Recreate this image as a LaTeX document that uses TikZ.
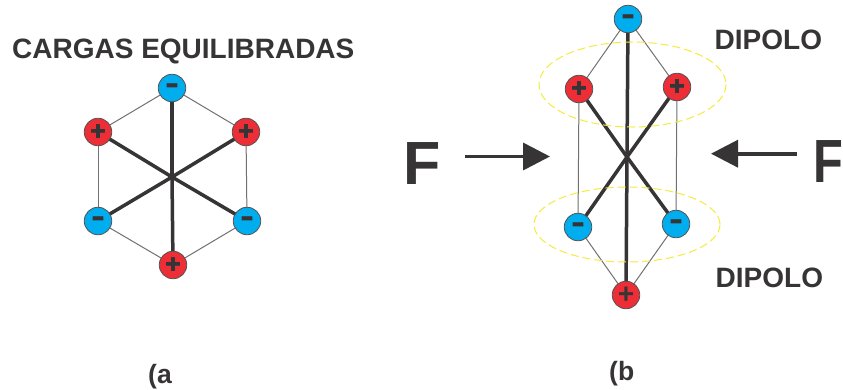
\documentclass[tikz,border=0pt]{standalone}
\usepackage{fontspec}
\setmainfont{Liberation Sans}
\newfontfamily\heavyfont[FakeBold=2.5]{Liberation Sans Bold}
\usetikzlibrary{arrows.meta}
\definecolor{pos}{HTML}{EE2E36}
\definecolor{neg}{HTML}{00AEEF}
\definecolor{ink}{HTML}{363435}
\definecolor{halo}{HTML}{F5EB3C}
\newcommand{\minusmark}{\raisebox{-.1em}{\scalebox{1.45}[1]{-}}}
\tikzset{
  charge/.style={circle,draw=ink!85,line width=.8pt,minimum size=27.5pt,inner sep=0pt,text=ink},
  plus/.style={charge,fill=pos,font=\heavyfont\fontsize{26}{26}\selectfont},
  thinplus/.style={charge,fill=pos,font=\bfseries\fontsize{28}{28}\selectfont},
  minus/.style={charge,fill=neg,font=\heavyfont\fontsize{27}{27}\selectfont},
  bond/.style={draw=ink,line width=3.5pt},
  tie/.style={draw=ink!70,line width=1pt},
  force/.style={draw=ink,line width=3.6pt,-{Triangle[length=27pt,width=27pt]}},
  halos/.style={draw=halo,line width=1pt,dash pattern=on 8pt off 4pt},
  title/.style={text=ink,font=\bfseries\fontsize{28}{28}\selectfont,inner sep=0pt},
  big/.style={text=ink,font=\bfseries\fontsize{61}{61}\selectfont,inner sep=0pt},
  tag/.style={text=ink,font=\bfseries\fontsize{26.5}{27}\selectfont,inner sep=0pt}
}
\begin{document}
\begin{tikzpicture}[x=1pt,y=-1pt]
\useasboundingbox (0,0) rectangle (843,389);
\fill[white] (0,0) rectangle (843,389);
% left hexagon
\coordinate (ac) at (172,177);
\coordinate (at) at (172,88);
\coordinate (aul) at (98,132);
\coordinate (aur) at (246,132);
\coordinate (all) at (98,221);
\coordinate (alr) at (247,221);
\coordinate (ab) at (173,265);
\path[tie] (at) edge (aul) edge (aur) (ab) edge (all) edge (alr) (aul) edge (all) (aur) edge (alr);
\path[bond] (ac) edge (at) edge (aul) edge (aur) edge (all) edge (alr) edge (ab);
\node[minus] (nat) at (at) {\minusmark};
\node[plus] (naul) at (aul) {+};
\node[plus] (naur) at (aur) {+};
\node[minus] (nall) at (all) {\minusmark};
\node[minus] (nalr) at (alr) {\minusmark};
\node[plus] (nab) at (ab) {+};
% right figure
\coordinate (bc) at (627,157);
\coordinate (bt) at (628,19);
\coordinate (bul) at (579,89);
\coordinate (bur) at (677,87);
\coordinate (bll) at (578,227);
\coordinate (blr) at (676,224);
\coordinate (bb) at (626,295);
\path[tie] (bt) edge (bul) edge (bur) (bb) edge (bll) edge (blr) (bul) edge (bll) (bur) edge (blr);
\path[bond] (bc) edge (bt) edge (bul) edge (bur) edge (bll) edge (blr) edge (bb);
\node[minus] (nbt) at (bt) {\minusmark};
\node[plus] (nbul) at (bul) {+};
\node[plus] (nbur) at (bur) {+};
\node[minus] (nbll) at (bll) {\minusmark};
\node[minus] (nblr) at (blr) {\minusmark};
\node[thinplus] (nbb) at (bb) {+};
\draw[halos] (632.5,84.5) ellipse [x radius=93.5, y radius=42.5];
\draw[halos] (627,224.5) ellipse [x radius=93, y radius=37.5];
% forces
\coordinate (fla) at (465,156.5);
\coordinate (flb) at (550,156.5);
\coordinate (fra) at (797,153.7);
\coordinate (frb) at (711,153.7);
\draw[force] (fla) -- (flb);
\draw[force] (fra) -- (frb);
% texts
\node[title,anchor=base west] (ttl) at (12,58.5) {CARGAS EQUILIBRADAS};
\node[title,anchor=base west] (d1) at (714.5,49) {DIPOLO};
\node[title,anchor=base west] (d2) at (715.5,287) {DIPOLO};
\node[big,anchor=base west] (f1) at (403,184) {F};
\node[big,anchor=base west,xscale=.8] (f2) at (813.7,182) {F};
\node[tag,anchor=base west] (la) at (148,383.5) {(a};
\node[tag,anchor=base west] (lb) at (609,380) {(b};
\end{tikzpicture}
\end{document}
